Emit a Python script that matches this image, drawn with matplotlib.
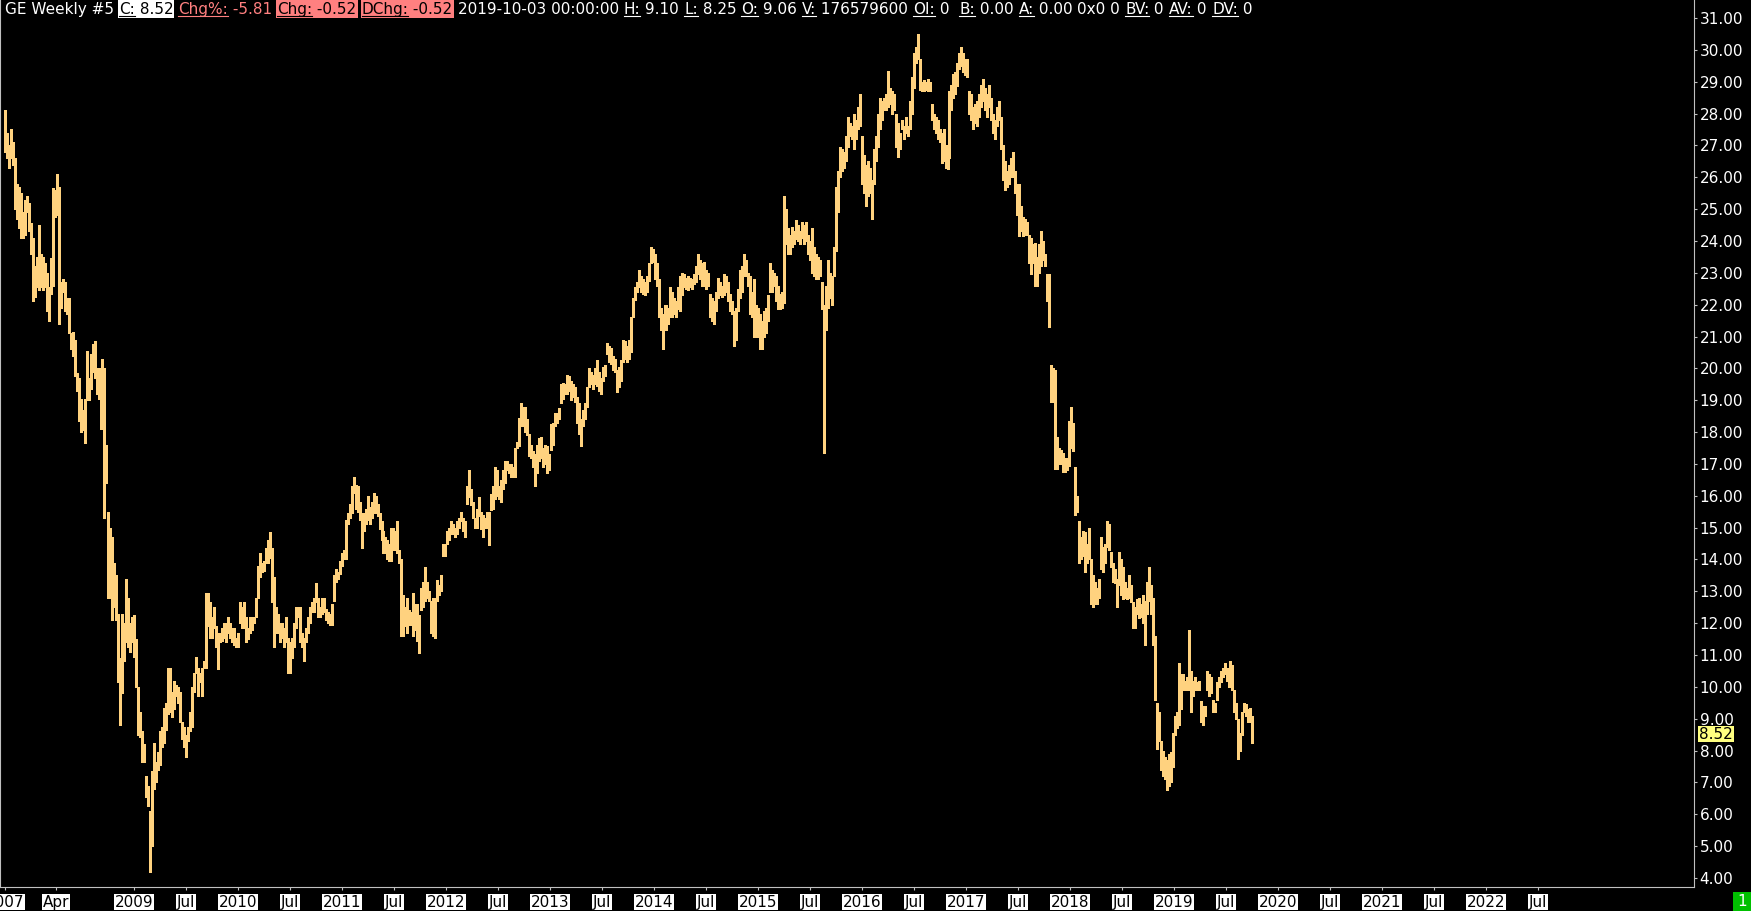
import numpy as np
import pandas as pd
import matplotlib
matplotlib.use("Agg")
import matplotlib.pyplot as plt
import matplotlib.dates as mdates
from matplotlib.transforms import IdentityTransform, blended_transform_factory
from matplotlib.lines import Line2D
from matplotlib.patches import Rectangle

# weekly bars (high / low), one list per calendar year, last bar 2019-10-03
hi_2007 = [28.1, 27.4, 27.0, 27.5, 27.1, 26.6, 25.8, 25.7, 25.5, 24.9, 25.3, 25.4, 25.2]
lo_2007 = [26.8, 26.6, 26.3, 26.6, 26.4, 25.0, 24.7, 24.4, 24.1, 24.1, 24.2, 24.9, 24.3]

hi_2008 = [24.55, 24.1, 23.2, 23.5, 24.5, 23.6, 23.5, 23.3, 23.0, 22.55,
           23.45, 25.65, 25.6, 26.1, 25.7, 22.7, 22.8, 22.7, 22.2, 22.2,
           21.1, 21.15, 20.9, 19.85, 19.7, 19.05, 18.7, 19.05, 20.55, 19.7,
           20.45, 20.75, 20.85, 20.0, 20.0, 19.7, 20.3, 20.0, 17.6, 15.5,
           15.0, 14.7, 13.9, 13.5, 12.3, 10.9, 12.3, 12.0, 13.4, 12.8,
           12.0, 12.2]
lo_2008 = [23.6, 22.1, 22.25, 22.55, 22.45, 22.55, 22.45, 22.55, 21.8, 21.5,
           22.35, 22.6, 24.75, 24.8, 21.4, 21.9, 22.4, 21.8, 21.7, 21.1,
           20.6, 20.4, 19.75, 19.3, 18.35, 18.0, 18.05, 17.65, 19.0, 19.0,
           19.35, 19.9, 19.7, 19.2, 19.05, 18.1, 18.9, 15.3, 16.4, 12.8,
           12.8, 12.1, 12.5, 12.1, 10.15, 8.8, 9.8, 10.8, 11.4, 11.25,
           11.1, 11.4]

hi_2009 = [12.26, 11.5, 10.0, 9.2, 8.6, 8.2, 7.2, 6.9, 6.1, 7.35,
           8.25, 7.65, 7.95, 8.6, 8.75, 9.35, 9.5, 10.6, 10.6, 9.85,
           10.2, 10.05, 10.0, 9.85, 8.9, 8.75, 8.5, 8.75, 9.2, 10.0,
           10.45, 10.95, 10.6, 10.45, 10.6, 10.8, 12.95, 12.95, 12.65, 12.2,
           12.5, 11.9, 11.7, 11.7, 11.85, 12.0, 12.0, 12.2, 12.0, 11.85,
           11.85, 11.55, 11.7]
lo_2009 = [10.93, 10.0, 8.5, 8.43, 7.65, 7.65, 6.55, 6.25, 4.2, 5.0,
           6.8, 7.0, 7.4, 7.55, 8.1, 8.25, 8.65, 9.15, 9.2, 9.05,
           9.3, 9.7, 9.5, 8.9, 8.35, 8.1, 7.8, 8.3, 8.6, 8.75,
           9.85, 10.45, 9.7, 10.15, 9.7, 10.6, 10.6, 11.9, 11.55, 11.55,
           11.85, 11.25, 10.55, 11.4, 11.45, 11.55, 11.4, 11.7, 11.55, 11.4,
           11.3, 11.25, 11.25]

hi_2010 = [12.65, 12.5, 12.65, 12.2, 11.85, 12.2, 12.2, 12.2, 12.8, 13.8,
           14.2, 13.9, 13.95, 14.35, 14.6, 14.85, 14.35, 13.45, 12.5, 12.3,
           12.0, 12.0, 11.85, 12.2, 11.55, 11.4, 11.55, 12.0, 12.5, 12.5,
           12.5, 11.7, 11.55, 11.85, 12.2, 12.5, 12.65, 12.8, 13.25, 12.8,
           12.5, 12.8, 12.8, 12.45, 12.35, 12.3, 12.6, 13.5, 13.7, 13.6,
           13.95, 14.2]
lo_2010 = [12.0, 11.85, 11.85, 11.4, 11.5, 11.7, 11.8, 12.0, 12.2, 12.8,
           13.45, 13.6, 13.65, 13.9, 13.9, 14.05, 12.65, 11.25, 11.7, 11.7,
           11.4, 11.55, 11.25, 11.4, 10.45, 10.45, 10.9, 11.25, 11.85, 12.2,
           11.4, 11.25, 10.8, 11.4, 11.7, 12.0, 12.35, 12.35, 12.65, 12.2,
           12.2, 12.3, 12.35, 12.1, 12.0, 11.95, 11.95, 12.7, 13.3, 13.4,
           13.55, 13.8]

hi_2011 = [14.3, 15.25, 15.45, 15.75, 16.3, 16.6, 16.35, 16.3, 15.8, 15.45,
           15.45, 15.6, 16.0, 15.65, 15.8, 16.1, 16.0, 15.75, 15.45, 15.2,
           14.9, 14.7, 14.6, 14.5, 15.0, 15.0, 14.9, 15.2, 14.3, 14.0,
           12.9, 12.5, 12.8, 12.4, 12.35, 12.95, 12.6, 12.6, 12.25, 13.1,
           13.3, 13.75, 13.3, 13.0, 12.7, 12.8, 12.8, 13.35, 13.2, 13.5,
           14.5, 14.5]
lo_2011 = [14.0, 14.0, 15.1, 15.3, 15.45, 16.1, 15.6, 15.5, 15.25, 14.35,
           14.9, 15.1, 15.25, 15.1, 15.3, 15.45, 15.45, 15.35, 14.95, 14.6,
           14.2, 14.2, 14.0, 13.95, 13.95, 14.3, 14.3, 14.2, 13.9, 11.6,
           11.6, 11.9, 11.7, 11.95, 11.95, 11.6, 11.8, 11.45, 11.05, 12.4,
           12.5, 12.7, 12.8, 12.7, 11.7, 11.6, 11.55, 12.7, 12.9, 13.0,
           14.1, 14.1]

hi_2012 = [14.9, 15.0, 15.2, 15.1, 15.0, 15.2, 15.3, 15.5, 15.3, 15.2,
           16.3, 16.8, 16.2, 15.8, 15.3, 15.6, 15.95, 15.5, 15.4, 15.3,
           15.5, 15.5, 16.05, 16.3, 16.9, 16.8, 16.3, 16.5, 16.8, 17.1,
           17.1, 17.0, 17.0, 16.9, 17.5, 17.7, 18.45, 18.9, 18.8, 18.8,
           18.4, 17.95, 17.6, 17.4, 17.3, 17.6, 17.8, 17.85, 17.5, 17.6,
           17.55, 17.3]
lo_2012 = [14.5, 14.6, 14.8, 14.8, 14.7, 14.8, 15.0, 15.2, 14.9, 14.7,
           15.75, 15.95, 15.7, 15.3, 15.0, 15.0, 15.35, 14.95, 14.7, 15.0,
           15.0, 14.45, 15.55, 15.6, 15.9, 16.0, 15.9, 15.8, 16.2, 16.4,
           16.8, 16.7, 16.6, 16.6, 16.6, 17.5, 17.55, 18.2, 18.2, 18.0,
           17.9, 17.25, 17.2, 16.9, 16.3, 16.7, 17.1, 17.2, 16.9, 17.0,
           16.7, 16.8]

hi_2013 = [18.25, 18.3, 18.6, 18.6, 18.75, 19.5, 19.55, 19.5, 19.8, 19.75,
           19.6, 19.5, 19.4, 19.1, 18.9, 18.4, 18.7, 18.9, 19.4, 20.0,
           19.9, 19.8, 20.0, 20.25, 19.9, 19.7, 20.05, 20.1, 20.8, 20.7,
           20.65, 20.4, 20.3, 19.95, 20.05, 20.25, 20.9, 20.85, 20.7, 20.9,
           21.6, 22.2, 22.55, 22.7, 23.1, 22.9, 22.8, 22.7, 22.9, 23.3,
           23.8, 23.75]
lo_2013 = [17.45, 17.6, 18.2, 18.3, 18.4, 18.9, 19.05, 19.2, 19.2, 19.3,
           19.0, 19.1, 18.95, 18.3, 17.95, 17.55, 18.2, 18.4, 18.8, 19.4,
           19.5, 19.35, 19.5, 19.45, 19.3, 19.2, 19.6, 19.75, 20.45, 20.2,
           20.15, 19.95, 19.9, 19.25, 19.4, 19.6, 20.2, 20.3, 20.2, 20.3,
           20.5, 21.6, 22.15, 22.4, 22.55, 22.4, 22.35, 22.3, 22.4, 22.75,
           23.3, 23.35]

hi_2014 = [23.6, 23.3, 22.8, 21.9, 21.7, 22.0, 22.0, 21.9, 22.55, 22.4,
           22.2, 22.1, 22.55, 22.9, 23.0, 22.95, 22.85, 22.9, 22.85, 22.8,
           22.95, 23.2, 23.6, 23.4, 23.3, 23.35, 23.1, 23.0, 22.35, 22.2,
           22.1, 22.4, 22.85, 22.7, 22.6, 22.95, 22.9, 22.7, 22.35, 22.1,
           21.8, 21.9, 22.5, 23.1, 23.2, 23.6, 23.4, 23.0, 22.9, 22.4,
           22.8, 22.0]
lo_2014 = [22.8, 22.6, 21.6, 21.2, 20.6, 21.3, 21.2, 21.4, 21.6, 21.6,
           21.7, 21.6, 21.85, 21.8, 22.3, 22.55, 22.5, 22.45, 22.55, 22.5,
           22.65, 22.7, 22.95, 22.8, 22.6, 22.6, 22.5, 22.6, 21.6, 21.5,
           21.4, 21.8, 22.2, 22.3, 22.25, 22.3, 22.4, 22.1, 21.8, 21.7,
           20.7, 20.9, 21.8, 22.2, 22.4, 22.9, 22.9, 22.6, 21.7, 21.6,
           21.0, 21.0]

hi_2015 = [21.9, 21.7, 21.5, 21.8, 21.9, 22.3, 23.3, 23.1, 23.0, 22.9,
           22.6, 22.35, 22.4, 25.4, 25.0, 24.4, 24.2, 24.45, 24.3, 24.65,
           24.5, 24.3, 24.6, 24.5, 24.6, 24.2, 24.0, 24.4, 23.8, 23.6,
           23.5, 23.4, 22.7, 22.0, 22.6, 23.4, 23.0, 22.9, 23.8, 25.7,
           26.2, 26.95, 26.9, 26.8, 27.3, 27.9, 27.7, 27.6, 28.0, 27.8,
           28.2, 28.6, 27.3]
lo_2015 = [21.0, 20.6, 20.6, 21.0, 21.1, 21.5, 22.4, 22.4, 22.6, 22.1,
           21.85, 21.85, 21.9, 22.05, 23.9, 23.6, 23.6, 23.8, 23.9, 24.05,
           24.0, 23.9, 24.1, 23.9, 24.0, 23.6, 23.4, 23.0, 22.9, 22.8,
           22.8, 22.9, 21.85, 17.35, 21.2, 21.9, 22.2, 22.0, 22.9, 23.7,
           24.9, 26.0, 26.2, 26.3, 26.5, 26.95, 27.3, 27.2, 26.9, 27.2,
           27.5, 27.6, 25.8]

hi_2016 = [26.7, 26.4, 26.5, 26.3, 25.9, 26.9, 27.3, 28.0, 28.5, 28.4,
           28.5, 28.6, 29.35, 28.8, 28.7, 28.6, 28.0, 27.7, 27.4, 27.8,
           27.6, 27.9, 27.6, 28.4, 29.15, 29.9, 30.1, 30.5, 29.7, 29.0,
           29.05, 29.0, 29.1, 29.0, 28.3, 28.0, 27.9, 27.8, 27.5, 27.4,
           27.5, 27.0, 26.95, 28.7, 28.9, 29.25, 29.3, 29.6, 29.9, 30.1,
           29.9, 29.7]
lo_2016 = [25.5, 25.1, 25.4, 25.5, 24.7, 25.8, 26.5, 26.95, 27.5, 27.8,
           28.1, 28.1, 28.2, 28.3, 28.0, 28.1, 26.95, 26.65, 26.9, 27.5,
           27.2, 27.4, 27.3, 27.5, 28.0, 28.8, 29.6, 29.7, 28.75, 28.7,
           28.7, 28.75, 28.7, 28.7, 27.8, 27.5, 27.4, 27.2, 27.1, 26.45,
           26.5, 26.3, 26.25, 26.6, 28.1, 28.5, 28.6, 28.85, 29.4, 29.5,
           29.3, 29.2]

hi_2017 = [29.7, 28.7, 28.6, 28.2, 28.3, 28.4, 28.6, 28.9, 29.1, 28.8,
           28.6, 28.9, 28.5, 28.0, 27.8, 28.2, 28.4, 27.9, 27.0, 26.5,
           26.2, 26.4, 26.6, 26.8, 26.2, 25.8, 25.8, 25.1, 24.75, 24.7,
           24.6, 24.2, 24.1, 23.9, 23.95, 23.5, 23.9, 24.3, 24.0, 23.6,
           22.95, 22.95, 20.1, 20.0, 19.95, 17.85, 17.5, 17.45, 17.35, 17.2,
           17.2, 18.35]
lo_2017 = [29.15, 28.0, 27.8, 27.5, 27.7, 27.6, 27.9, 28.2, 28.4, 28.1,
           27.9, 28.2, 27.8, 27.4, 27.2, 27.6, 27.8, 26.9, 25.9, 25.6,
           25.7, 25.8, 26.0, 26.0, 25.5, 24.8, 24.15, 24.3, 24.15, 24.2,
           24.2, 23.3, 22.95, 23.3, 22.6, 22.6, 23.0, 23.2, 23.4, 23.2,
           22.1, 21.3, 18.95, 18.95, 16.85, 16.85, 17.0, 17.0, 16.75, 16.75,
           16.8, 16.95]

hi_2018 = [18.8, 18.3, 16.9, 16.0, 15.2, 14.7, 14.9, 14.85, 14.5, 15.0,
           14.0, 13.5, 13.3, 13.1, 13.4, 14.7, 14.4, 14.5, 15.2, 15.1,
           14.25, 13.9, 13.7, 13.4, 14.25, 14.0, 13.75, 13.3, 13.1, 13.5,
           13.2, 12.65, 12.5, 12.75, 12.8, 12.6, 12.9, 12.7, 13.3, 13.75,
           13.2, 12.8, 11.6, 9.5, 9.2, 8.3, 8.0, 7.8, 7.7, 7.9,
           7.95, 8.55]
lo_2018 = [17.5, 17.4, 15.4, 15.5, 13.9, 14.0, 14.1, 13.6, 13.9, 14.0,
           12.6, 12.5, 12.6, 12.6, 12.8, 13.7, 13.6, 13.9, 14.4, 14.3,
           13.75, 13.3, 13.25, 12.5, 13.2, 12.9, 12.75, 12.8, 12.75, 12.8,
           12.65, 11.85, 11.85, 12.3, 12.15, 12.2, 12.0, 11.3, 12.3, 12.7,
           12.3, 11.3, 9.6, 8.05, 8.3, 7.4, 7.2, 7.1, 6.75, 6.9,
           7.0, 7.5]

hi_2019 = [9.1, 9.2, 10.75, 10.4, 10.4, 10.2, 10.3, 11.8, 10.5, 10.2,
           10.3, 10.15, 10.2, 9.55, 9.4, 9.4, 10.5, 10.4, 10.3, 9.6,
           9.5, 10.15, 10.3, 10.5, 10.6, 10.75, 10.6, 10.5, 10.8, 10.7,
           9.9, 9.5, 9.0, 8.55, 9.2, 9.5, 9.45, 9.3, 9.35, 9.1]
lo_2019 = [8.5, 8.7, 8.8, 9.3, 9.9, 9.9, 9.9, 9.9, 9.2, 9.7,
           9.9, 9.9, 9.9, 8.9, 8.8, 9.1, 9.9, 9.7, 9.8, 9.2,
           9.2, 9.6, 10.0, 10.15, 10.3, 10.4, 10.2, 10.0, 10.0, 9.9,
           9.2, 9.0, 7.75, 8.0, 8.5, 9.2, 9.1, 8.9, 8.9, 8.25]

last_bar = "2019-10-03"
last_close = 8.52

y_ticks = list(range(4, 32))
x_tick_dates = ["2007-10-04", "2008-04-01"]
x_tick_labels = ["2007", "Apr"]
for yr in range(2009, 2023):
    x_tick_dates += [f"{yr}-01-01", f"{yr}-07-01"]
    x_tick_labels += [str(yr), "Jul"]

hi = np.concatenate([hi_2007, hi_2008, hi_2009, hi_2010, hi_2011, hi_2012, hi_2013,
                     hi_2014, hi_2015, hi_2016, hi_2017, hi_2018, hi_2019])
lo = np.concatenate([lo_2007, lo_2008, lo_2009, lo_2010, lo_2011, lo_2012, lo_2013,
                     lo_2014, lo_2015, lo_2016, lo_2017, lo_2018, lo_2019])
dates = pd.date_range(end=last_bar, periods=len(hi), freq="7D")

W, H = 1751, 911
bar_col = "#ffd27f"
grey = "#c0c0c0"
salmon = "#ff8080"
fs = 11

fig = plt.figure(figsize=(W / 100, H / 100), dpi=100, facecolor="black")
ax = fig.add_axes([0, (H - 887) / H, 1694 / W, 887 / H])
ax.set_facecolor("black")

ax.vlines(mdates.date2num(dates.to_pydatetime()), lo, hi, color=bar_col,
          linewidth=0.9, antialiased=False)

ax.set_xlim(mdates.date2num(pd.Timestamp("2007-09-17")), mdates.date2num(pd.Timestamp("2024-01-01")))
ax.set_ylim(3.717, 31.565)

for s in ["left", "right", "bottom"]:
    ax.spines[s].set_color(grey)
    ax.spines[s].set_linewidth(0.8)
ax.spines["top"].set_visible(False)

ax.yaxis.tick_right()
ax.set_yticks(y_ticks)
ax.set_yticklabels([f"{v:.2f}" for v in y_ticks])
ax.tick_params(axis="y", colors=grey, labelcolor="white", length=2.5, width=0.8,
               pad=1.5, labelsize=fs, left=False)

ax.set_xticks(mdates.date2num(pd.to_datetime(x_tick_dates).to_pydatetime()))
ax.set_xticklabels(x_tick_labels)
ax.tick_params(axis="x", colors=grey, labelcolor="black", length=2.5, width=0.8,
               pad=3, labelsize=fs)
for lab in ax.get_xticklabels():
    lab.set_bbox(dict(boxstyle="square,pad=0.05", fc="white", ec="none"))

# last price marker on the price scale
tr = blended_transform_factory(ax.transAxes, ax.transData)
ax.text(1.0 + 5 / 1694, last_close, f"{last_close:.2f}", transform=tr, ha="left", va="center",
        color="black", fontsize=fs, clip_on=False, zorder=5,
        bbox=dict(boxstyle="square,pad=0.05", fc="#ffff80", ec="none"))

# green counter box bottom right
fig.patches.append(Rectangle((1733, 0), 18, 19, transform=IdentityTransform(),
                             fc="#00c000", ec="none"))
fig.text(1742, 9.5, "1", transform=IdentityTransform(), ha="center", va="center",
         color="white", fontsize=fs)

# header line
header = [("", "GE Weekly #5", "white", None),
          ("C:", " 8.52", "black", "white"),
          ("Chg%:", " -5.81", salmon, None),
          ("Chg:", " -0.52", "black", salmon),
          ("DChg:", " -0.52", "black", salmon),
          ("", "2019-10-03 00:00:00", "white", None),
          ("H:", " 9.10", "white", None),
          ("L:", " 8.25", "white", None),
          ("O:", " 9.06", "white", None),
          ("V:", " 176579600", "white", None),
          ("OI:", " 0", "white", None),
          ("B:", " 0.00", "white", None),
          ("A:", " 0.00", "white", None),
          ("", "0x0 0", "white", None),
          ("BV:", " 0", "white", None),
          ("AV:", " 0", "white", None),
          ("DV:", " 0", "white", None)]

fig.canvas.draw()
r = fig.canvas.get_renderer()
x = 5
base = H - 14
for lab, val, fg, bg in header:
    x0 = x
    if lab:
        t = fig.text(x, base, lab, transform=IdentityTransform(), color=fg, fontsize=fs,
                     va="baseline", zorder=3)
        w = t.get_window_extent(r).width
        fig.lines.append(Line2D([x, x + w], [base - 2, base - 2], transform=IdentityTransform(),
                                color=fg, linewidth=0.8, zorder=3))
        x += w
    t = fig.text(x, base, val, transform=IdentityTransform(), color=fg, fontsize=fs,
                 va="baseline", zorder=3)
    x += t.get_window_extent(r).width
    if bg:
        fig.patches.append(Rectangle((x0 - 1, H - 18), x - x0 + 2, 18, transform=IdentityTransform(),
                                     fc=bg, ec="none", zorder=2))
    x += 5
    if lab == "OI:":
        x += 5

fig.savefig("out.png", dpi=100, facecolor="black")
